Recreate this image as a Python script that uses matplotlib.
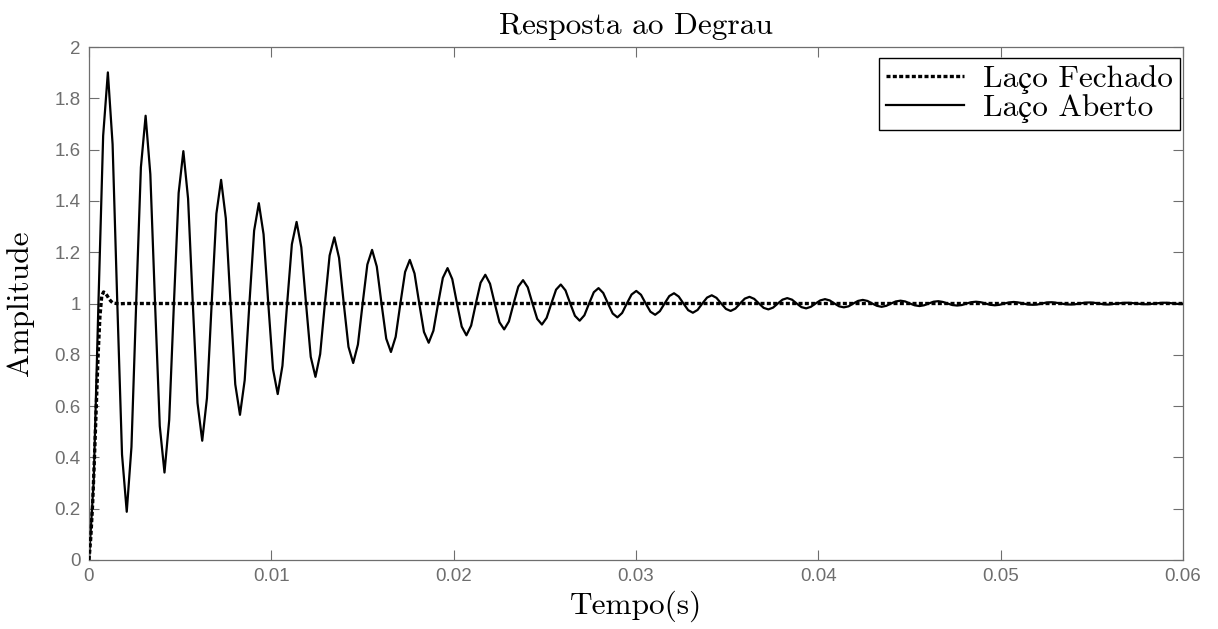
import numpy as np
import matplotlib
matplotlib.use("Agg")
import matplotlib.pyplot as plt

# ---- data ----
sample_step = 0.00025875  # s, open-loop sampling interval

# open-loop step response, one row per oscillation period (8 samples each)
open_loop = [
    0.000, 0.311, 1.000, 1.654, 1.901, 1.621, 1.000, 0.411,
    0.188, 0.441, 1.000, 1.531, 1.732, 1.504, 1.000, 0.522,
    0.341, 0.546, 1.000, 1.431, 1.594, 1.409, 1.000, 0.612,
    0.465, 0.631, 1.000, 1.350, 1.482, 1.332, 1.000, 0.685,
    0.566, 0.701, 1.000, 1.284, 1.391, 1.270, 1.000, 0.744,
    0.647, 0.757, 1.000, 1.231, 1.318, 1.219, 1.000, 0.792,
    0.714, 0.803, 1.000, 1.187, 1.258, 1.178, 1.000, 0.831,
    0.768, 0.840, 1.000, 1.152, 1.209, 1.144, 1.000, 0.863,
    0.811, 0.870, 1.000, 1.123, 1.170, 1.117, 1.000, 0.889,
    0.847, 0.894, 1.000, 1.100, 1.138, 1.095, 1.000, 0.910,
    0.876, 0.914, 1.000, 1.081, 1.112, 1.077, 1.000, 0.927,
    0.899, 0.930, 1.000, 1.066, 1.091, 1.063, 1.000, 0.940,
    0.918, 0.944, 1.000, 1.054, 1.074, 1.051, 1.000, 0.952,
    0.933, 0.954, 1.000, 1.044, 1.060, 1.041, 1.000, 0.961,
    0.946, 0.963, 1.000, 1.035, 1.049, 1.034, 1.000, 0.968,
    0.956, 0.970, 1.000, 1.029, 1.040, 1.027, 1.000, 0.974,
    0.964, 0.975, 1.000, 1.023, 1.032, 1.022, 1.000, 0.979,
    0.971, 0.980, 1.000, 1.019, 1.026, 1.018, 1.000, 0.983,
    0.977, 0.984, 1.000, 1.015, 1.021, 1.015, 1.000, 0.986,
    0.981, 0.987, 1.000, 1.012, 1.017, 1.012, 1.000, 0.989,
    0.985, 0.989, 1.000, 1.010, 1.014, 1.010, 1.000, 0.991,
    0.987, 0.991, 1.000, 1.008, 1.011, 1.008, 1.000, 0.993,
    0.990, 0.993, 1.000, 1.007, 1.009, 1.006, 1.000, 0.994,
    0.992, 0.994, 1.000, 1.005, 1.007, 1.005, 1.000, 0.995,
    0.993, 0.995, 1.000, 1.004, 1.006, 1.004, 1.000, 0.996,
    0.995, 0.996, 1.000, 1.004, 1.005, 1.003, 1.000, 0.997,
    0.996, 0.997, 1.000, 1.003, 1.004, 1.003, 1.000, 0.997,
    0.996, 0.998, 1.000, 1.002, 1.003, 1.002, 1.000, 0.998,
    0.997, 0.998, 1.000, 1.002, 1.003, 1.002, 1.000, 0.998,
    0.998,
]

closed_t = [0.0, 0.0001, 0.0002, 0.0003, 0.0004, 0.0005, 0.0006, 0.0007,
            0.0008, 0.0009, 0.0010, 0.0011, 0.0012, 0.0013, 0.0014, 0.0015,
            0.0017, 0.0020, 0.0600]
closed_loop = [0.0, 0.09, 0.22, 0.40, 0.60, 0.80, 0.95, 1.03,
               1.045, 1.040, 1.030, 1.018, 1.009, 1.003, 1.001, 1.000,
               0.999, 1.000, 1.000]

x_ticks = [0, 0.01, 0.02, 0.03, 0.04, 0.05, 0.06]
x_ticklabels = ["0", "0.01", "0.02", "0.03", "0.04", "0.05", "0.06"]
y_ticks = [0, 0.2, 0.4, 0.6, 0.8, 1.0, 1.2, 1.4, 1.6, 1.8, 2.0]
y_ticklabels = ["0", "0.2", "0.4", "0.6", "0.8", "1", "1.2", "1.4", "1.6", "1.8", "2"]

title_text = "Resposta ao Degrau"
xlabel_text = "Tempo(s)"
ylabel_text = "Amplitude"
legend_labels = ["Laço Fechado", "Laço Aberto"]

# ---- plot ----
open_t = np.arange(len(open_loop)) * sample_step

serif = ["cmr10", "STIXGeneral", "DejaVu Serif"]
tick_color = "#6e6e6e"
big = 22.6

fig = plt.figure(figsize=(12.18, 6.29), dpi=100)
ax = fig.add_axes([89 / 1218, 1 - 560 / 629, (1183 - 89) / 1218, (560 - 47) / 629])

l1, = ax.plot(closed_t, closed_loop, color="black", lw=2.4,
              linestyle=(0, (1.2, 0.7)), zorder=3)
l2, = ax.plot(open_t, open_loop, color="black", lw=1.6, zorder=2)

ax.set_xlim(0, 0.06)
ax.set_ylim(0, 2)
ax.set_xticks(x_ticks)
ax.set_xticklabels(x_ticklabels)
ax.set_yticks(y_ticks)
ax.set_yticklabels(y_ticklabels)

ax.tick_params(direction="in", length=7, width=0.8, color=tick_color,
               labelcolor=tick_color, labelsize=13.5, top=True, right=True,
               pad=6)
for lab in ax.get_xticklabels() + ax.get_yticklabels():
    lab.set_family(["Liberation Sans", "DejaVu Sans"])
for sp in ax.spines.values():
    sp.set_color(tick_color)
    sp.set_linewidth(0.9)

ax.set_title(title_text, family=serif, fontsize=big, color="black", pad=9)
ax.set_xlabel(xlabel_text, family=serif, fontsize=big, color="black", labelpad=4)
ax.set_ylabel(ylabel_text, family=serif, fontsize=big, color="black", labelpad=15)

leg = ax.legend([l1, l2], legend_labels, loc="upper right",
                bbox_to_anchor=(1180 / 1218, 1 - 58 / 629),
                bbox_transform=fig.transFigure,
                prop={"family": serif, "size": big},
                frameon=True, fancybox=False, edgecolor="black",
                framealpha=1, handlelength=2.5, handletextpad=0.6,
                labelspacing=0.0, borderpad=0.22, borderaxespad=0)
leg.get_frame().set_linewidth(1.0)

fig.savefig("out.png", dpi=100)
